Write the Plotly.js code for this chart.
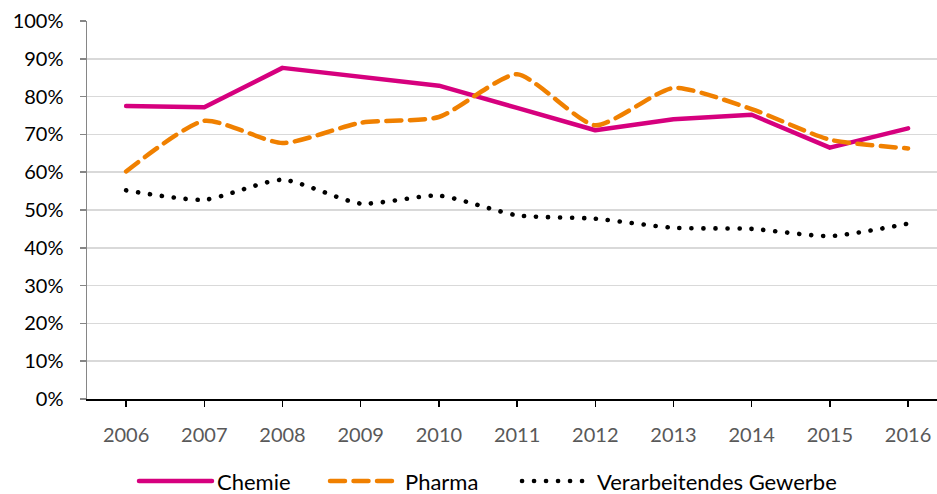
<!DOCTYPE html>
<html>
<head>
<meta charset="utf-8">
<script src="https://cdn.plot.ly/plotly-3.0.1.min.js"></script>
<style>
html, body { margin: 0; padding: 0; background: #fff; }
#chart { width: 937px; height: 494px; }
.js-line { stroke-linecap: round; stroke-linejoin: round; }
</style>
</head>
<body>
<div id="chart"></div>
<script>
const years = ['2006','2007','2008','2009','2010','2011','2012','2013','2014','2015','2016'];
const chemie = [0.775, 0.772, 0.876, 0.853, 0.829, 0.770, 0.711, 0.740, 0.752, 0.665, 0.716];
const pharma = [0.602, 0.736, 0.677, 0.731, 0.746, 0.859, 0.724, 0.823, 0.767, 0.686, 0.663];
const gewerbe = [0.552, 0.527, 0.580, 0.517, 0.538, 0.486, 0.477, 0.453, 0.450, 0.431, 0.464];
const names = ['Chemie', 'Pharma', 'Verarbeitendes Gewerbe'];

const font = 'Lato, "Open Sans", sans-serif';

const traces = [
  { x: years, y: chemie, name: names[0], type: 'scatter', mode: 'lines', legend: 'legend',
    line: { color: '#D6007E', width: 4.5, shape: 'linear' } },
  { x: years, y: pharma, name: names[1], type: 'scatter', mode: 'lines', legend: 'legend2',
    line: { color: '#F08000', width: 4.5, shape: 'spline', smoothing: 0.6, dash: '15px,8.5px' } },
  { x: years, y: gewerbe, name: names[2], type: 'scatter', mode: 'lines', legend: 'legend3',
    line: { color: '#000000', width: 4.6, shape: 'spline', smoothing: 0.6, dash: '0.1px,11.9px' } }
];

function leg(x, w) {
  return {
    orientation: 'h', xref: 'container', yref: 'container',
    x: x, xanchor: 'left', y: 0.026, yanchor: 'middle',
    font: { family: font, size: 22, color: '#000000' },
    itemwidth: w, bgcolor: 'rgba(0,0,0,0)', borderwidth: 0
  };
}

const layout = {
  width: 937, height: 494,
  margin: { l: 87, r: 0, t: 21, b: 95 },
  paper_bgcolor: '#ffffff', plot_bgcolor: '#ffffff',
  font: { family: font, size: 20, color: '#000000' },
  showlegend: true,
  legend: leg(134 / 937, 73),
  legend2: leg(325 / 937, 70),
  legend3: leg(517 / 937, 70),
  xaxis: {
    type: 'category', range: [-0.5, 10.37],
    showline: true, linecolor: '#000000', linewidth: 1.5,
    ticks: 'outside', ticklen: 6, tickcolor: '#000000', tickwidth: 1.5,
    showgrid: false, zeroline: false,
    tickfont: { family: font, size: 20, color: '#595959' },
    ticklabelstandoff: 11
  },
  yaxis: {
    range: [0, 1], dtick: 0.1, tickformat: '.0%',
    showline: true, linecolor: '#868686', linewidth: 1.5,
    ticks: 'outside', ticklen: 6, tickcolor: '#868686', tickwidth: 1.5,
    showgrid: true, gridcolor: '#d9d9d9', gridwidth: 1.5,
    zeroline: false,
    tickfont: { family: font, size: 20, color: '#000000' },
    ticklabelstandoff: 12
  }
};

Plotly.newPlot('chart', traces, layout, { displayModeBar: false, staticPlot: true });
</script>
</body>
</html>
